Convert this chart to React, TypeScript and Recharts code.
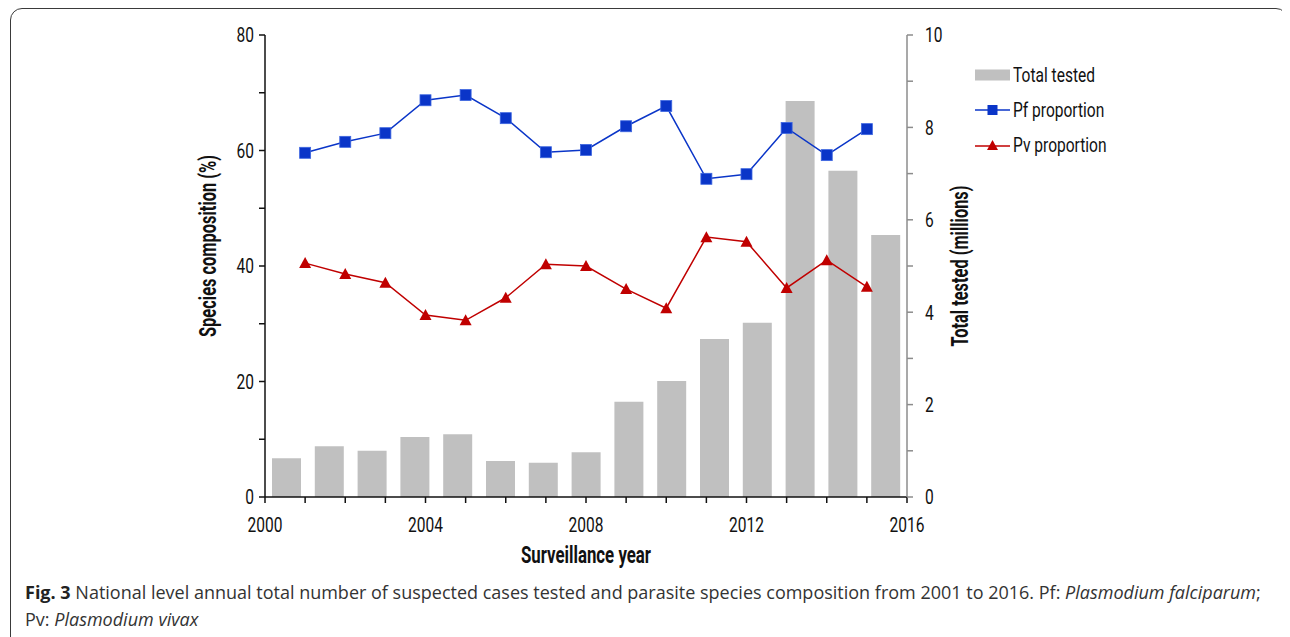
import {
  ComposedChart,
  Bar,
  Line,
  XAxis,
  YAxis,
  Legend,
} from "recharts";

const years = [2001, 2002, 2003, 2004, 2005, 2006, 2007, 2008, 2009, 2010, 2011, 2012, 2013, 2014, 2015];
// total suspected cases tested, millions
const totalTested = [0.84, 1.1, 1.0, 1.3, 1.36, 0.78, 0.74, 0.97, 2.06, 2.51, 3.42, 3.77, 8.57, 7.06, 5.67];
// species share, %
const pfShare = [59.6, 61.5, 63.0, 68.7, 69.6, 65.6, 59.7, 60.1, 64.2, 67.7, 55.1, 55.9, 63.9, 59.2, 63.7];
const pvShare = [40.5, 38.6, 37.1, 31.5, 30.6, 34.5, 40.3, 40.0, 36.0, 32.7, 45.0, 44.2, 36.2, 41.0, 36.4];

const yearTicks = [2000, 2001, 2002, 2003, 2004, 2005, 2006, 2007, 2008, 2009, 2010, 2011, 2012, 2013, 2014, 2015, 2016];
const leftTicks = [0, 10, 20, 30, 40, 50, 60, 70, 80];
const rightTicks = [0, 1, 2, 3, 4, 5, 6, 7, 8, 9, 10];

const data = years.map((year, i) => ({
  year,
  total: totalTested[i],
  pf: pfShare[i],
  pv: pvShare[i],
}));

// no condensed face is installed, so squeeze Roboto horizontally
const FONT = "Roboto, 'Liberation Sans', sans-serif";
const SQUEEZE = 0.74;
const BLUE = "#0a35c8";
const RED = "#c00000";
const BAR = "#c0c0c0";
const INK = "#111";

const squeeze = (x: number, y: number) => `translate(${x} ${y}) scale(${SQUEEZE} 1) translate(${-x} ${-y})`;

const BottomTick = ({ x, y, payload }: any) => {
  const v = payload.value;
  if (v % 4 !== 0) return null;
  const ty = y + 27;
  return (
    <text x={x} y={ty} textAnchor="middle" transform={squeeze(x, ty)} style={{ fontFamily: FONT, fontSize: 21, fill: INK }}>
      {v}
    </text>
  );
};

const LeftTick = ({ x, y, payload }: any) => {
  const v = payload.value;
  if (v % 20 !== 0) return null;
  const ty = y + 7.5;
  return (
    <text x={x} y={ty} textAnchor="end" transform={squeeze(x, ty)} style={{ fontFamily: FONT, fontSize: 21, fill: INK }}>
      {v}
    </text>
  );
};

const RightTick = ({ x, y, payload }: any) => {
  const v = payload.value;
  if (v % 2 !== 0) return null;
  const ty = y + 7.5;
  return (
    <text x={x} y={ty} textAnchor="start" transform={squeeze(x, ty)} style={{ fontFamily: FONT, fontSize: 21, fill: INK }}>
      {v}
    </text>
  );
};

const titleStyle = { fontFamily: FONT, fontSize: 23, fontWeight: 700, fill: INK };

const VerticalTitle = ({ x, y, len, text }: { x: number; y: number; len: number; text: string }) => (
  <text
    x={x}
    y={y}
    transform={`rotate(-90 ${x} ${y})`}
    textAnchor="middle"
    dominantBaseline="central"
    textLength={len}
    lengthAdjust="spacingAndGlyphs"
    style={titleStyle}
  >
    {text}
  </text>
);

const LeftTitle = ({ viewBox }: any) => (
  <VerticalTitle x={viewBox.x + 3} y={viewBox.y + viewBox.height / 2 - 20} len={182} text="Species composition (%)" />
);

const RightTitle = ({ viewBox }: any) => (
  <VerticalTitle x={viewBox.x + 53} y={viewBox.y + viewBox.height / 2} len={161} text="Total tested (millions)" />
);

const BottomTitle = ({ viewBox }: any) => {
  const x = viewBox.x + viewBox.width / 2;
  const y = viewBox.y + 66;
  return (
    <text x={x} y={y} textAnchor="middle" textLength={130} lengthAdjust="spacingAndGlyphs" style={titleStyle}>
      Surveillance year
    </text>
  );
};

const rowStyle = { display: "flex", alignItems: "center", height: 35 };
const labelStyle = { display: "inline-block", transform: `scaleX(${SQUEEZE})`, transformOrigin: "left center" };

const LegendBox = () => (
  <div style={{ fontFamily: FONT, fontSize: 21, color: INK, whiteSpace: "nowrap" }}>
    <div style={rowStyle}>
      <svg width={38} height={14}>
        <rect x={0} y={1.5} width={35} height={11} fill={BAR} />
      </svg>
      <span style={labelStyle}>Total tested</span>
    </div>
    <div style={rowStyle}>
      <svg width={38} height={14}>
        <line x1={0} y1={7} x2={35} y2={7} stroke={BLUE} strokeWidth={1.5} />
        <rect x={12.5} y={2} width={10} height={10} fill={BLUE} />
      </svg>
      <span style={labelStyle}>Pf proportion</span>
    </div>
    <div style={rowStyle}>
      <svg width={38} height={14}>
        <line x1={0} y1={8} x2={35} y2={8} stroke={RED} strokeWidth={1.5} />
        <polygon points="17.5,2 23,12 12,12" fill={RED} />
      </svg>
      <span style={labelStyle}>Pv proportion</span>
    </div>
  </div>
);

export default function App() {
  return (
    <div
      style={{
        position: "relative",
        marginLeft: 2,
        width: 1278,
        height: 660,
        border: "1.5px solid #3a3a3a",
        borderRadius: 12,
        boxSizing: "border-box",
        background: "#fff",
      }}
    >
      <ComposedChart
        width={1100}
        height={560}
        data={data}
        margin={{ top: 26, right: 124, left: 194, bottom: 2 }}
      >
        {/* bars sit in 15 equal bands, lines on the real year scale */}
        <XAxis xAxisId="band" dataKey="year" type="category" height={0} hide />
        <XAxis
          xAxisId="year"
          dataKey="year"
          type="number"
          domain={[2000, 2016]}
          ticks={yearTicks}
          interval={0}
          height={70}
          tickSize={6}
          tickMargin={2}
          tick={<BottomTick />}
          axisLine={{ stroke: INK, strokeWidth: 1.5 }}
          tickLine={{ stroke: INK, strokeWidth: 1.5 }}
          label={<BottomTitle />}
        />
        <YAxis
          yAxisId="left"
          domain={[0, 80]}
          ticks={leftTicks}
          interval={0}
          width={60}
          tickSize={6}
          tickMargin={5}
          tick={<LeftTick />}
          axisLine={{ stroke: INK, strokeWidth: 1.5 }}
          tickLine={{ stroke: INK, strokeWidth: 1.5 }}
          label={<LeftTitle />}
        />
        <YAxis
          yAxisId="right"
          orientation="right"
          domain={[0, 10]}
          ticks={rightTicks}
          interval={0}
          width={80}
          tickSize={6}
          tickMargin={12}
          tick={<RightTick />}
          axisLine={{ stroke: "#8c8c8c", strokeWidth: 1.5 }}
          tickLine={{ stroke: "#8c8c8c", strokeWidth: 1.5 }}
          label={<RightTitle />}
        />
        <Legend
          layout="vertical"
          align="center"
          verticalAlign="middle"
          content={() => <LegendBox />}
          wrapperStyle={{ position: "absolute", left: 964, top: 48, width: 200, height: 110 }}
        />
        <Bar
          xAxisId="band"
          yAxisId="right"
          dataKey="total"
          name="Total tested"
          fill={BAR}
          barSize={29}
          isAnimationActive={false}
        />
        <Line
          xAxisId="year"
          yAxisId="left"
          dataKey="pf"
          name="Pf proportion"
          stroke={BLUE}
          strokeWidth={1.5}
          dot={(p: any) => (
            <rect key={`pf-${p.index}`} x={p.cx - 5.5} y={p.cy - 5.5} width={11} height={11} fill={BLUE} stroke="#3d66e0" strokeWidth={0.8} />
          )}
          activeDot={false}
          isAnimationActive={false}
        />
        <Line
          xAxisId="year"
          yAxisId="left"
          dataKey="pv"
          name="Pv proportion"
          stroke={RED}
          strokeWidth={1.5}
          dot={(p: any) => (
            <polygon
              key={`pv-${p.index}`}
              points={`${p.cx},${p.cy - 6} ${p.cx + 6},${p.cy + 5} ${p.cx - 6},${p.cy + 5}`}
              fill={RED}
            />
          )}
          activeDot={false}
          isAnimationActive={false}
        />
      </ComposedChart>
      <div
        style={{
          position: "absolute",
          left: 14,
          top: 570,
          fontFamily: "'Open Sans', sans-serif",
          fontSize: 18,
          lineHeight: "27px",
          color: "#333",
          whiteSpace: "nowrap",
        }}
      >
        <b style={{ color: "#222" }}>Fig. 3</b> National level annual total number of suspected cases tested and
        parasite species composition from 2001 to 2016. Pf: <i>Plasmodium falciparum</i>;
        <br />
        Pv: <i>Plasmodium vivax</i>
      </div>
    </div>
  );
}
